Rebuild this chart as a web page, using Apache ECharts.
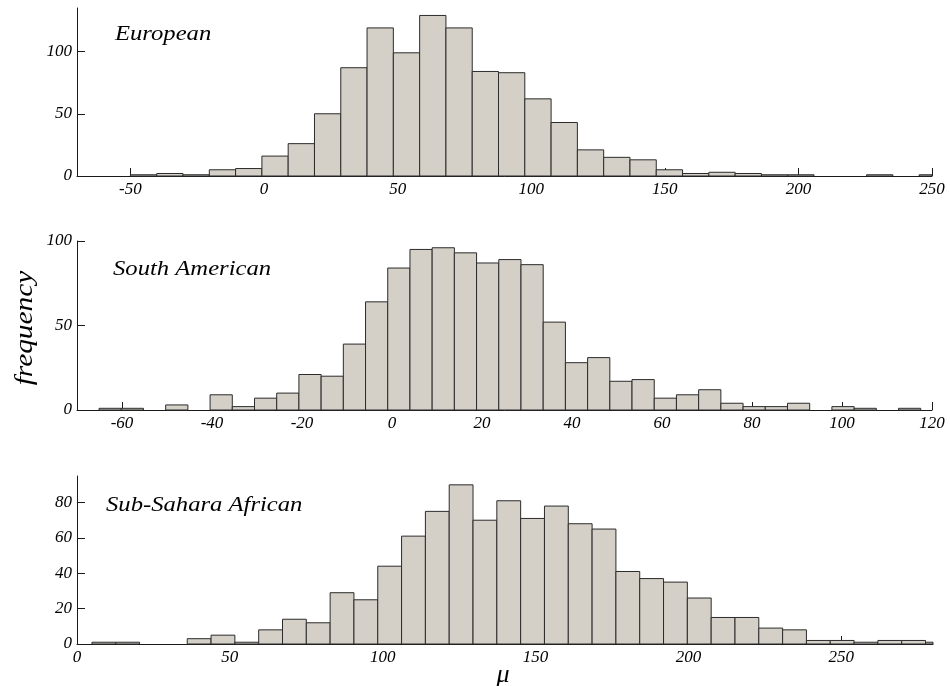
<!DOCTYPE html>
<html>
<head>
<meta charset="utf-8">
<script src="https://cdn.jsdelivr.net/npm/echarts@6/dist/echarts.min.js"></script>
<style>html,body{margin:0;padding:0;background:#fff}#c{width:950px;height:686px}</style>
</head>
<body>
<div id="c"></div>
<script>
// ---- Data ----
const panelTitles = ['European', 'South American', 'Sub-Sahara African'];

const euBinStart = -50, euBinWidth = 9.84;
const euCounts = [1,2,1,5,6,16,26,50,87,119,99,129,119,84,83,62,43,21,15,13,5,2,3,2,1,1,0,0,1,0,1];
const euXTicks = [-50, 0, 50, 100, 150, 200, 250];
const euYTicks = [0, 50, 100];

const saBinStart = -65.1, saBinWidth = 4.935;
const saCounts = [1,1,0,3,0,9,2,7,10,21,20,39,64,84,95,96,93,87,89,86,52,28,31,17,18,7,9,12,4,2,2,4,0,2,1,0,1];
const saXTicks = [-60, -40, -20, 0, 20, 40, 60, 80, 100, 120];
const saYTicks = [0, 50, 100];

const ssaBinStart = 4.9, ssaBinWidth = 7.79;
const ssaCounts = [1,1,0,0,3,5,1,8,14,12,29,25,44,61,75,90,70,81,71,78,68,65,41,37,35,26,15,15,9,8,2,2,1,2,2,1];
const ssaXTicks = [0, 50, 100, 150, 200, 250];
const ssaYTicks = [0, 20, 40, 60, 80];

// ---- Build ----
function bins(start, width, counts) {
  return counts.map((c, i) => [start + i * width, start + (i + 1) * width, c]);
}
const FONT = "'Liberation Serif', 'DejaVu Serif', serif";
const AX = '#1a1a1a';

const grids = [
  { left: 77, top: 8, width: 855, height: 168 },
  { left: 77, top: 241, width: 855, height: 169 },
  { left: 77, top: 476, width: 856, height: 168 }
];
const xRanges = [[-70, 250], [-70, 120], [0, 280]];
const yRanges = [[0, 135], [0, 100], [0, 95]];
const xTickSets = [euXTicks, saXTicks, ssaXTicks];
const yTickSets = [euYTicks, saYTicks, ssaYTicks];
const binSets = [
  bins(euBinStart, euBinWidth, euCounts),
  bins(saBinStart, saBinWidth, saCounts),
  bins(ssaBinStart, ssaBinWidth, ssaCounts)
];

const labelStyle = { color: '#000', fontFamily: FONT, fontStyle: 'italic', fontSize: 17 };

const xAxis = grids.map((g, i) => ({
  type: 'value', gridIndex: i, min: xRanges[i][0], max: xRanges[i][1],
  splitLine: { show: false },
  axisLine: { show: true, onZero: false, lineStyle: { color: AX, width: 1 } },
  axisTick: { show: true, inside: true, length: 8, customValues: xTickSets[i], lineStyle: { color: AX } },
  axisLabel: Object.assign({ margin: 5, customValues: xTickSets[i] }, labelStyle)
}));
const yAxis = grids.map((g, i) => ({
  type: 'value', gridIndex: i, min: yRanges[i][0], max: yRanges[i][1],
  splitLine: { show: false },
  axisLine: { show: true, onZero: false, lineStyle: { color: AX, width: 1 } },
  axisTick: { show: true, inside: true, length: 8, customValues: yTickSets[i], lineStyle: { color: AX } },
  axisLabel: Object.assign({ margin: 5, customValues: yTickSets[i] }, labelStyle)
}));

const series = binSets.map((data, i) => ({
  type: 'custom', xAxisIndex: i, yAxisIndex: i,
  encode: { x: [0, 1], y: 2 },
  data: data,
  renderItem: function (params, api) {
    const c = api.value(2);
    if (!c) return null;
    const p0 = api.coord([api.value(0), c]);
    const p1 = api.coord([api.value(1), 0]);
    const rect = echarts.graphic.clipRectByRect(
      { x: p0[0], y: p0[1], width: p1[0] - p0[0], height: p1[1] - p0[1] },
      { x: params.coordSys.x, y: params.coordSys.y, width: params.coordSys.width, height: params.coordSys.height }
    );
    if (!rect) return null;
    return { type: 'rect', shape: rect, style: { fill: '#d4d0c8', stroke: '#2b2b2b', lineWidth: 1 } };
  }
}));

const titlePos = [[115, 45], [113, 280], [106, 516]];
const graphic = panelTitles.map((t, i) => ({
  type: 'text', x: titlePos[i][0], y: titlePos[i][1], scaleX: 1.12,
  style: { text: t, fill: '#000', font: 'italic 22px ' + FONT, textAlign: 'left', textVerticalAlign: 'bottom' }
}));
graphic.push({
  type: 'text', x: 25, y: 328, rotation: Math.PI / 2, scaleX: 1.13,
  style: { text: 'frequency', fill: '#000', font: 'italic 26px ' + FONT, textAlign: 'center', textVerticalAlign: 'middle' }
});
graphic.push({
  type: 'text', x: 503, y: 675,
  style: { text: 'μ', fill: '#000', font: 'italic 26px ' + FONT, textAlign: 'center', textVerticalAlign: 'middle' }
});

const chart = echarts.init(document.getElementById('c'), null, { renderer: 'canvas' });
chart.setOption({
  animation: false,
  backgroundColor: '#fff',
  grid: grids,
  xAxis: xAxis,
  yAxis: yAxis,
  series: series,
  graphic: graphic
});
</script>
</body>
</html>
